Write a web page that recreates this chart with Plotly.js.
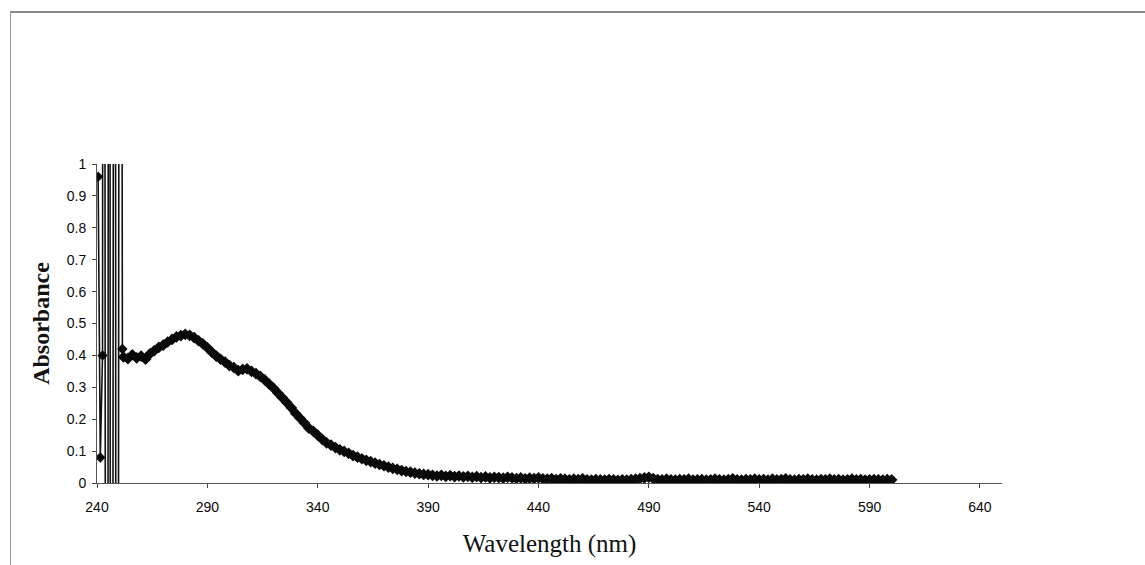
<!DOCTYPE html>
<html>
<head>
<meta charset="utf-8">
<script src="https://cdn.plot.ly/plotly-3.0.1.min.js"></script>
<style>
  html, body { margin: 0; padding: 0; background: #ffffff; }
  #frame { position: absolute; left: 10px; top: 11px; width: 1160px; height: 620px;
           border-top: 2px solid #8a8a8a; border-left: 1px solid #9a9a9a; box-sizing: border-box; }
  #chart { position: absolute; left: 0; top: 0; width: 1145px; height: 565px; }
</style>
</head>
<body>
<div id="frame"></div>
<div id="chart"></div>
<script>
// Wavelength (nm) and absorbance
// Start of scan: noisy readings that run far off the 0–1 scale
const wavelengthStart = [240.5, 241.5, 242.5, 243, 244.5, 245.5, 246.5, 248, 249, 250.5, 251.5];
const absorbanceStart = [0.96, 0.08, 0.40, 6, -6, 6, -6, 6, -6, 6, 0.42];

// Main spectrum, every 2 nm from 252 to 600 nm
const wavelengthMain = [
  252,254,256,258,260,262,264,266,268,270,272,274,276,278,280,282,284,286,288,290,
  292,294,296,298,300,302,304,306,308,310,312,314,316,318,320,322,324,326,328,330,
  332,334,336,338,340,342,344,346,348,350,352,354,356,358,360,362,364,366,368,370,
  372,374,376,378,380,382,384,386,388,390,392,394,396,398,400,402,404,406,408,410,
  412,414,416,418,420,422,424,426,428,430,432,434,436,438,440,442,444,446,448,450,
  452,454,456,458,460,462,464,466,468,470,472,474,476,478,480,482,484,486,488,490,
  492,494,496,498,500,502,504,506,508,510,512,514,516,518,520,522,524,526,528,530,
  532,534,536,538,540,542,544,546,548,550,552,554,556,558,560,562,564,566,568,570,
  572,574,576,578,580,582,584,586,588,590,592,594,596,598,600
];
const absorbanceMain = [
  0.395,0.390,0.402,0.392,0.398,0.388,0.405,0.415,0.425,0.432,0.442,0.450,0.458,0.462,0.466,0.463,0.456,0.446,0.436,0.424,
  0.410,0.398,0.388,0.379,0.368,0.362,0.352,0.356,0.358,0.350,0.343,0.334,0.323,0.310,0.297,0.282,0.267,0.252,0.236,0.218,
  0.203,0.188,0.172,0.162,0.150,0.137,0.126,0.119,0.111,0.104,0.099,0.093,0.086,0.081,0.076,0.071,0.067,0.062,0.058,0.054,
  0.050,0.046,0.043,0.039,0.036,0.034,0.031,0.029,0.027,0.026,0.024,0.022,0.024,0.021,0.023,0.020,0.022,0.019,0.021,0.018,
  0.020,0.017,0.019,0.016,0.018,0.017,0.015,0.018,0.016,0.014,0.016,0.013,0.015,0.014,0.016,0.013,0.012,0.014,0.011,0.013,
  0.012,0.010,0.012,0.011,0.013,0.010,0.009,0.011,0.010,0.009,0.011,0.010,0.008,0.010,0.009,0.011,0.012,0.014,0.016,0.018,
  0.014,0.011,0.010,0.012,0.010,0.009,0.011,0.010,0.012,0.009,0.010,0.011,0.009,0.010,0.012,0.010,0.009,0.011,0.013,0.010,
  0.009,0.011,0.010,0.012,0.010,0.011,0.009,0.012,0.010,0.011,0.013,0.010,0.009,0.011,0.010,0.012,0.010,0.009,0.011,0.010,
  0.012,0.010,0.011,0.009,0.010,0.012,0.010,0.011,0.009,0.010,0.011,0.010,0.009,0.011,0.010
];

const xTickValues = [240, 290, 340, 390, 440, 490, 540, 590, 640];
const yTickValues = [0, 0.1, 0.2, 0.3, 0.4, 0.5, 0.6, 0.7, 0.8, 0.9, 1];
const yTickLabels = ['0','0.1','0.2','0.3','0.4','0.5','0.6','0.7','0.8','0.9','1'];

const wavelength = wavelengthStart.concat(wavelengthMain);
const absorbance = absorbanceStart.concat(absorbanceMain);

const traces = [
  {
    x: wavelength, y: absorbance, type: 'scatter', mode: 'lines',
    line: { color: '#111111', width: 1.6 },
    hoverinfo: 'x+y', showlegend: false
  },
  {
    x: wavelengthMain, y: absorbanceMain, type: 'scatter', mode: 'lines+markers',
    line: { color: '#0a0a0a', width: 6 },
    marker: { symbol: 'diamond', size: 9, color: '#0a0a0a' },
    showlegend: false
  },
  {
    x: wavelengthStart.slice(0, 3).concat([wavelengthStart[wavelengthStart.length - 1]]),
    y: absorbanceStart.slice(0, 3).concat([absorbanceStart[absorbanceStart.length - 1]]),
    type: 'scatter', mode: 'markers',
    marker: { symbol: 'diamond', size: 8, color: '#0a0a0a' },
    showlegend: false
  }
];

const layout = {
  width: 1145, height: 565,
  paper_bgcolor: 'rgba(0,0,0,0)', plot_bgcolor: 'rgba(0,0,0,0)',
  margin: { l: 97, r: 143, t: 164, b: 82, pad: 0 },
  showlegend: false,
  font: { family: 'Liberation Sans, Arial, sans-serif', size: 14, color: '#0a0a0a' },
  xaxis: {
    range: [240, 650], tickmode: 'array', tickvals: xTickValues,
    ticks: 'outside', ticklen: 4, tickcolor: '#444', tickwidth: 1,
    showline: true, linecolor: '#555', linewidth: 1,
    showgrid: false, zeroline: false,
    ticklabelstandoff: 7,
    tickfont: { family: 'Liberation Sans, Arial, sans-serif', size: 14, color: '#0a0a0a' },
    title: { text: 'Wavelength (nm)', standoff: 20,
             font: { family: 'Liberation Serif, Times New Roman, serif', size: 25, color: '#111' } }
  },
  yaxis: {
    range: [0, 1], tickmode: 'array', tickvals: yTickValues, ticktext: yTickLabels,
    ticks: 'outside', ticklen: 4, tickcolor: '#444', tickwidth: 1,
    showline: true, linecolor: '#555', linewidth: 1,
    showgrid: false, zeroline: false,
    ticklabelstandoff: 3,
    tickfont: { family: 'Liberation Sans, Arial, sans-serif', size: 14, color: '#0a0a0a' },
    title: { text: '<b>Absorbance</b>', standoff: 10,
             font: { family: 'Liberation Serif, Times New Roman, serif', size: 24, color: '#111' } }
  }
};

Plotly.newPlot('chart', traces, layout, { displayModeBar: false, staticPlot: true });
</script>
</body>
</html>
